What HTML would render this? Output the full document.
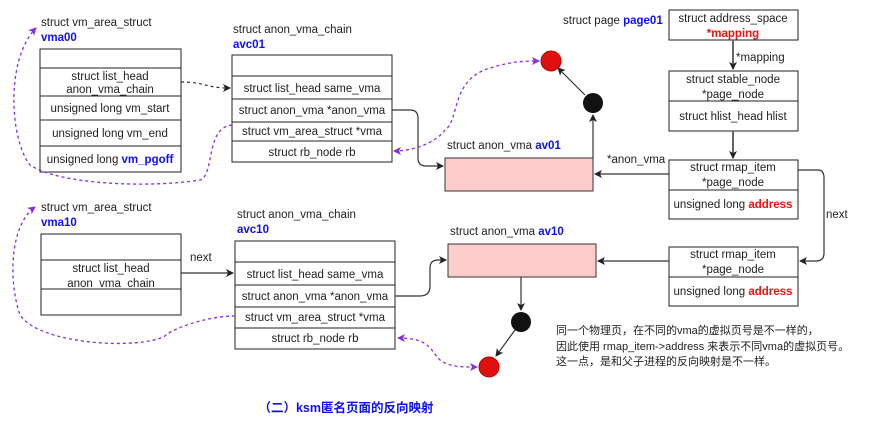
<!DOCTYPE html>
<html><head><meta charset="utf-8"><style>
body{margin:0;background:#fff;width:874px;height:428px;overflow:hidden}
svg{display:block}
text{font-family:"Liberation Sans","Noto Sans CJK SC",sans-serif;font-size:11.5px;fill:#222}
.c{text-anchor:middle}
.b{fill:#1010ee;font-weight:bold}
.r{fill:#ee1111;font-weight:bold}
</style></head><body>
<svg width="874" height="428" viewBox="0 0 874 428">
<defs>
<marker id="a" markerWidth="8" markerHeight="8" refX="7" refY="4" orient="auto" markerUnits="userSpaceOnUse"><path d="M0,0 L8,4 L0,8 L2,4z" fill="#222"/></marker>
<marker id="p" markerWidth="8" markerHeight="8" refX="7" refY="4" orient="auto" markerUnits="userSpaceOnUse"><path d="M0,0 L8,4 L0,8 L2,4z" fill="#8a2be2"/></marker>
<marker id="ps" markerWidth="8" markerHeight="8" refX="1" refY="4" orient="auto" markerUnits="userSpaceOnUse"><path d="M8,0 L0,4 L8,8 L6,4z" fill="#8a2be2"/></marker>
</defs>
<g fill="none" stroke="#222" stroke-width="1">
<rect x="40" y="49" width="141" height="123"/>
<path d="M40 68H181M40 96H181M40 120H181M40 146H181"/>
<rect x="232" y="55" width="160" height="107"/>
<path d="M232 76H392M232 99H392M232 122H392M232 141H392"/>
<rect x="41" y="234" width="140" height="81"/>
<path d="M41 260H181M41 289H181"/>
<rect x="235" y="241" width="160" height="108"/>
<path d="M235 262H395M235 285H395M235 307H395M235 328H395"/>
<rect x="669" y="10" width="129" height="30"/>
<rect x="669" y="71" width="129" height="60"/><path d="M669 101H798"/>
<rect x="669" y="160" width="129" height="59"/><path d="M669 190H798"/>
<rect x="669" y="247" width="129" height="59"/><path d="M669 277H798"/>
</g>
<rect x="445" y="158" width="148" height="33" fill="#ffcccc" stroke="#333"/>
<rect x="448" y="244" width="148" height="33" fill="#ffcccc" stroke="#333"/>
<circle cx="551" cy="61" r="10" fill="#e01010" stroke="#b00"/>
<circle cx="593" cy="103" r="10" fill="#111"/>
<circle cx="521" cy="322" r="10" fill="#111"/>
<circle cx="489" cy="367" r="10" fill="#e01010" stroke="#b00"/>
<g fill="none" stroke="#333" stroke-width="1.2">
<path d="M181 82 C205 82 205 88 230 88" stroke-dasharray="3,3" marker-end="url(#a)"/>
<path d="M392 110H410Q418 110 418 118V158Q418 166 426 166H443" marker-end="url(#a)"/>
<path d="M593 158V115" marker-end="url(#a)"/>
<path d="M585 95L558 68" marker-end="url(#a)"/>
<path d="M733 40V69" stroke="#666" stroke-width="2" marker-end="url(#a)"/>
<path d="M733 131V158" stroke="#666" stroke-width="2" marker-end="url(#a)"/>
<path d="M669 174H595" marker-end="url(#a)"/>
<path d="M798 170H818Q824 170 824 178V253Q824 261 816 261H800" marker-end="url(#a)"/>
<path d="M669 261H598" marker-end="url(#a)"/>
<path d="M181 273H233" marker-end="url(#a)"/>
<path d="M395 296H420Q430 296 430 286V268Q430 260 438 260H446" marker-end="url(#a)"/>
<path d="M521 277V310" marker-end="url(#a)"/>
<path d="M515 330L496 356" marker-end="url(#a)"/>
</g>
<g fill="none" stroke="#8a2be2" stroke-width="1.3" stroke-dasharray="3,3">
<path d="M232 125C205 128 215 175 200 180C150 188 60 185 30 165C10 140 5 60 36 28" marker-end="url(#p)"/>
<path d="M394 151C420 151 440 138 445 130C460 120 450 80 490 68C510 62 520 61 539 61" marker-start="url(#ps)" marker-end="url(#p)"/>
<path d="M235 316C205 316 170 330 165 336C140 350 40 345 20 315C8 280 10 225 35 207" marker-end="url(#p)"/>
<path d="M398 338C430 338 430 350 440 360C450 367 460 367 477 367" marker-start="url(#ps)" marker-end="url(#p)"/>
</g>
<text x="41" y="26">struct vm_area_struct</text>
<text x="41" y="41" class="b">vma00</text>
<text x="110" y="80" class="c">struct list_head</text>
<text x="110" y="93" class="c">anon_vma_chain</text>
<text x="110" y="112" class="c">unsigned long vm_start</text>
<text x="110" y="137" class="c">unsigned long vm_end</text>
<text x="110" y="163" class="c">unsigned long <tspan class="b">vm_pgoff</tspan></text>
<text x="233" y="33">struct anon_vma_chain</text>
<text x="233" y="48" class="b">avc01</text>
<text x="312" y="92" class="c">struct list_head same_vma</text>
<text x="312" y="114" class="c">struct anon_vma *anon_vma</text>
<text x="312" y="135" class="c">struct vm_area_struct *vma</text>
<text x="312" y="156" class="c">struct rb_node rb</text>
<text x="447" y="149">struct anon_vma <tspan class="b">av01</tspan></text>
<text x="563" y="24">struct page <tspan class="b">page01</tspan></text>
<text x="733" y="22" class="c">struct address_space</text>
<text x="733" y="37" class="c r">*mapping</text>
<text x="736" y="61">*mapping</text>
<text x="733" y="83" class="c">struct stable_node</text>
<text x="733" y="98" class="c">*page_node</text>
<text x="733" y="120" class="c">struct hlist_head hlist</text>
<text x="607" y="163">*anon_vma</text>
<text x="733" y="171" class="c">struct rmap_item</text>
<text x="733" y="186" class="c">*page_node</text>
<text x="733" y="208" class="c">unsigned long <tspan class="r">address</tspan></text>
<text x="826" y="218">next</text>
<text x="733" y="258" class="c">struct rmap_item</text>
<text x="733" y="273" class="c">*page_node</text>
<text x="733" y="295" class="c">unsigned long <tspan class="r">address</tspan></text>
<text x="41" y="211">struct vm_area_struct</text>
<text x="41" y="226" class="b">vma10</text>
<text x="111" y="272" class="c">struct list_head</text>
<text x="111" y="287" class="c">anon_vma_chain</text>
<text x="190" y="261">next</text>
<text x="237" y="218">struct anon_vma_chain</text>
<text x="237" y="233" class="b">avc10</text>
<text x="315" y="278" class="c">struct list_head same_vma</text>
<text x="315" y="300" class="c">struct anon_vma *anon_vma</text>
<text x="315" y="321" class="c">struct vm_area_struct *vma</text>
<text x="315" y="342" class="c">struct rb_node rb</text>
<text x="450" y="235">struct anon_vma <tspan class="b">av10</tspan></text>
<text x="556" y="334" style="font-size:11px">同一个物理页，在不同的vma的虚拟页号是不一样的，</text>
<text x="556" y="350" style="font-size:11px">因此使用 rmap_item-&gt;address 来表示不同vma的虚拟页号。</text>
<text x="556" y="365" style="font-size:11px">这一点，是和父子进程的反向映射是不一样。</text>
<text x="346" y="412" class="c b" style="font-size:12.5px">（二）ksm匿名页面的反向映射</text>
</svg>
</body></html>
